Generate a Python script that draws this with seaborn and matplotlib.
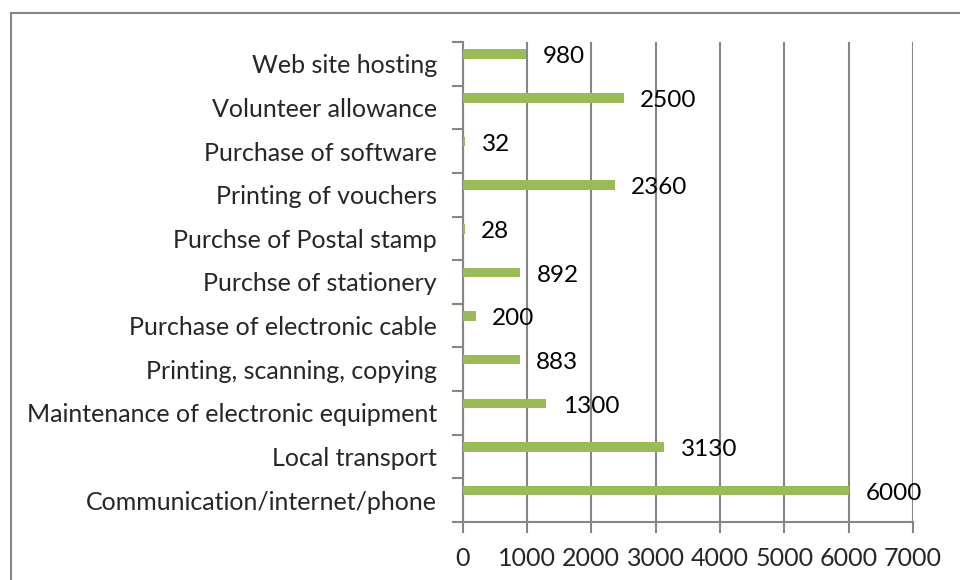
import matplotlib
matplotlib.use('Agg')
import matplotlib.pyplot as plt
from matplotlib.patches import Rectangle
import numpy as np
import pandas as pd
import seaborn as sns

# ── Data ─────────────────────────────────────────────────────
categories = [
    'Web site hosting',
    'Volunteer allowance',
    'Purchase of software',
    'Printing of vouchers',
    'Purchse of Postal stamp',
    'Purchse of stationery',
    'Purchase of electronic cable',
    'Printing, scanning, copying',
    'Maintenance of electronic equipment',
    'Local transport',
    'Communication/internet/phone',
]
amounts = [980, 2500, 32, 2360, 28, 892, 200, 883, 1300, 3130, 6000]
x_ticks = [0, 1000, 2000, 3000, 4000, 5000, 6000, 7000]

# ── Style ────────────────────────────────────────────────────
sns.set_theme(style="white")
plt.rcParams['font.family'] = ['Lato', 'DejaVu Sans']
plt.rcParams['font.size'] = 18

grey = '#868686'
green = '#9BBB59'

df = pd.DataFrame({'item': categories, 'amount': amounts})

fig = plt.figure(figsize=(9.6, 5.8), dpi=100)
ax = fig.add_axes([0.482, 0.1, 0.469, 0.8276])

sns.barplot(data=df, x='amount', y='item', orient='h', color=green,
            width=0.22, saturation=1, linewidth=0, ax=ax)
texts = ax.bar_label(ax.containers[0], labels=[str(v) for v in amounts],
                     padding=12, fontsize=17.5, color='black')
for t in texts:
    t.set_position((12, -2))

# bars sit in the upper part of each category band (Excel clustered look)
shift = 0.22
n = len(categories)
ax.set_ylim(n - 0.5 + shift, -0.5 + shift)
ax.set_yticks(np.arange(n) + shift)
ax.set_yticklabels(categories)
ax.set_yticks(np.arange(n + 1) - 0.5 + shift, minor=True)
ax.tick_params(axis='y', which='major', length=0, pad=18.5, labelsize=18)
ax.tick_params(axis='y', which='minor', length=8, width=1.5, color=grey,
               direction='out', left=True)

ax.set_xlim(0, 7000)
ax.set_xticks(x_ticks)
ax.tick_params(axis='x', length=8, width=1.5, color=grey, direction='out',
               bottom=True, pad=10, labelsize=18)
ax.grid(axis='x', color=grey, linewidth=1.5)
ax.set_axisbelow(False)
for b in ax.patches:
    b.set_zorder(3)
ax.set_xlabel('')
ax.set_ylabel('')

for s in ['top', 'right']:
    ax.spines[s].set_visible(False)
for s in ['left', 'bottom']:
    ax.spines[s].set_color(grey)
    ax.spines[s].set_linewidth(1.5)

# outer chart frame (only top and left edges visible in the crop)
fig.add_artist(Rectangle((10.5 / 960, -0.2), 1.2, 1.2 - 12.5 / 580,
                         transform=fig.transFigure, fill=False,
                         edgecolor=grey, linewidth=1.5))

plt.savefig('out.png', dpi=100)
